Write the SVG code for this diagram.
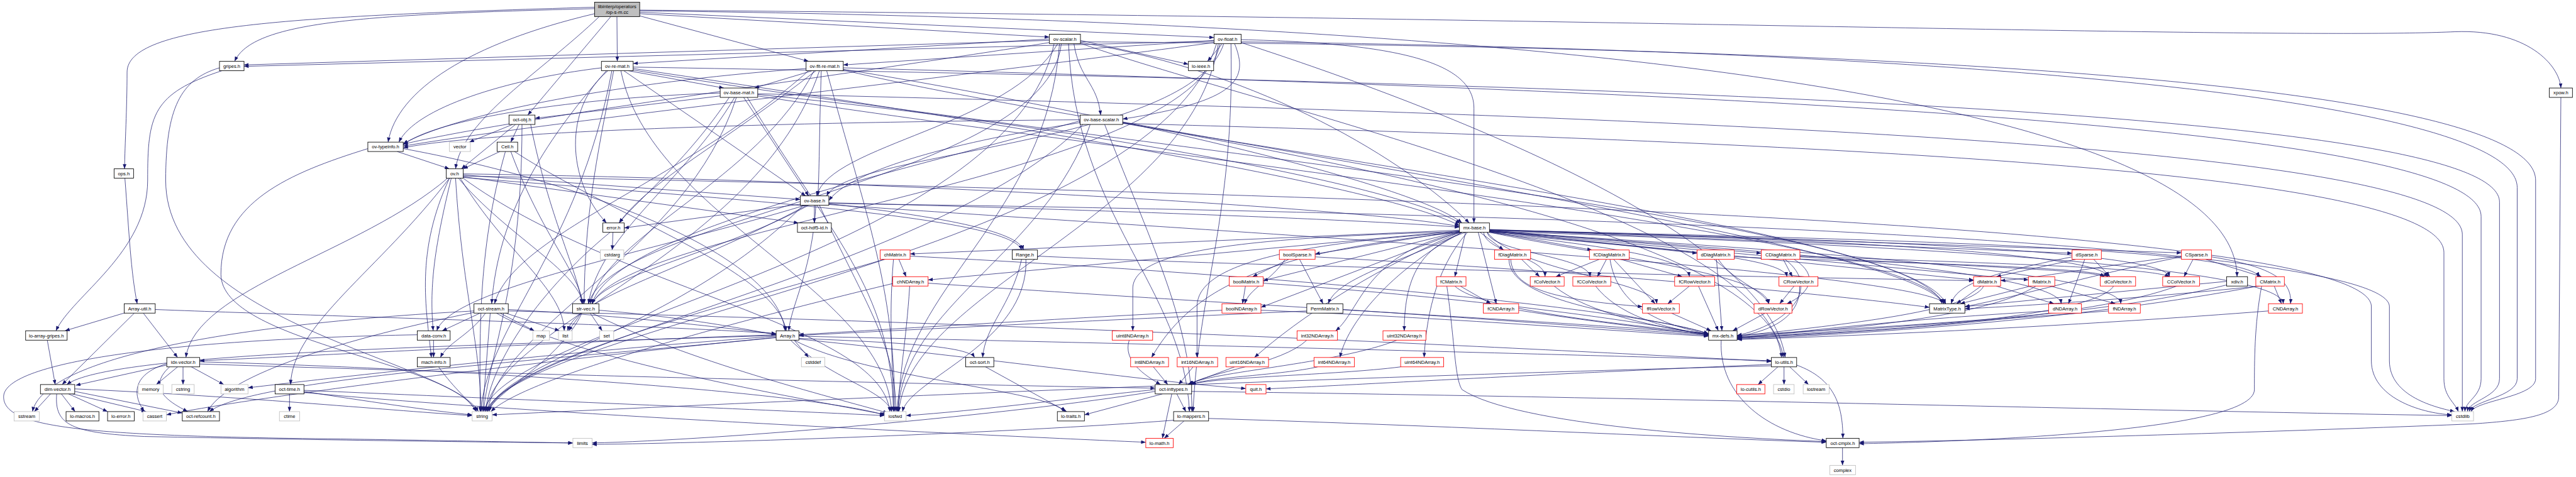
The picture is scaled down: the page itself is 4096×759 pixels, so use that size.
<svg xmlns="http://www.w3.org/2000/svg" width="4096" height="759" viewBox="0 0 4096 759">
<defs>
<style>
.nd rect{fill:#fff;stroke:#000;stroke-width:1.5}
.nd.red rect{stroke:#ff0000}
.nd.sys rect{stroke:#bfbfbf}
.nd.main rect{fill:#bfbfbf}
.nd text{font-family:"Liberation Sans",Arial,Helvetica,sans-serif;font-size:13.3px;text-anchor:middle;fill:#000}
#edges path{fill:none;stroke:#191970;stroke-width:1.3;marker-end:url(#arr)}
</style>
<marker id="arr" viewBox="0 0 13 10" refX="13" refY="5" markerWidth="13" markerHeight="10" markerUnits="userSpaceOnUse" orient="auto"><path d="M0,0 L13,5 L0,10 z" fill="#191970"/></marker>
</defs>
<rect width="4096" height="759" fill="#fff"/>
<g transform="scale(0.574)">
<g id="edges">
<path d="M1647,24 C1000,40 700,60 650,170"/>
<path d="M1647,20 C800,45 352,70 352,200 C352,300 346,400 345,468"/>
<path d="M1709,46 L1710,170"/>
<path d="M1772,44 L2240,170"/>
<path d="M1692,46 L1462,319"/>
<path d="M1647,38 C1300,120 1100,250 1075,394"/>
<path d="M1660,46 C1500,200 1280,330 1262,468"/>
<path d="M1772,38 L2907,103"/>
<path d="M1772,34 L3363,104"/>
<path d="M1772,30 C4500,60 6190,300 6197,767"/>
<path d="M1772,28 C4500,50 6300,110 6800,88 C7000,80 7090,180 7094,244"/>
<path d="M2907,112 L676,180"/>
<path d="M2907,108 L1754,176"/>
<path d="M2993,112 L3292,178"/>
<path d="M2975,121 C2990,220 3040,230 3049,319"/>
<path d="M2907,118 C2400,200 1400,330 1117,400"/>
<path d="M2930,121 C2800,350 2300,400 2262,543"/>
<path d="M2993,118 C3500,200 3900,450 4070,618"/>
<path d="M2940,121 C2900,500 1700,600 1630,842"/>
<path d="M2993,120 C3500,300 4900,600 4935,991"/>
<path d="M2960,121 C2980,600 3280,800 3295,1141"/>
<path d="M2920,121 C2800,700 1400,900 1340,1141"/>
<path d="M2935,121 C2900,600 2500,800 2485,1141"/>
<path d="M2993,116 C5500,130 7024,250 7024,500 L7024,1050 C7024,1100 6860,1110 6845,1141"/>
<path d="M3363,114 L676,184"/>
<path d="M3363,112 L2336,180"/>
<path d="M3386,121 L3345,170"/>
<path d="M3420,121 C3460,220 3430,280 3110,330"/>
<path d="M3363,118 C2600,220 1500,340 1117,405"/>
<path d="M3390,121 C3300,400 2350,420 2290,543"/>
<path d="M3438,110 C3900,120 4083,180 4083,300 L4083,618"/>
<path d="M3380,121 C3300,500 1750,620 1640,842"/>
<path d="M3438,118 C4000,300 4900,650 4945,991"/>
<path d="M3410,121 C3420,600 3320,800 3305,1141"/>
<path d="M3370,121 C3200,700 1450,900 1345,1141"/>
<path d="M3375,121 C3300,600 2520,800 2490,1141"/>
<path d="M3438,116 C5500,140 6973,280 6973,520 L6973,1050 C6973,1100 6850,1110 6840,1141"/>
<path d="M1740,196 L2005,244"/>
<path d="M1666,188 C1400,220 1150,300 1105,394"/>
<path d="M1728,196 L2232,543"/>
<path d="M1684,196 C1560,300 1570,500 1680,618"/>
<path d="M1754,190 C2500,300 3800,500 4043,625"/>
<path d="M1680,196 C1500,400 1380,600 1362,842"/>
<path d="M1700,196 C1650,450 1620,600 1618,842"/>
<path d="M1754,194 C3000,400 5300,600 5380,842"/>
<path d="M1720,196 C1800,600 2450,800 2470,1141"/>
<path d="M1695,196 C1600,700 1350,900 1332,1141"/>
<path d="M1754,186 C5000,240 6924,330 6924,560 L6924,1050 C6924,1100 6840,1110 6835,1141"/>
<path d="M2250,196 L2090,244"/>
<path d="M2233,190 C1800,220 1300,300 1117,398"/>
<path d="M2275,196 C2270,350 2270,450 2266,543"/>
<path d="M2260,196 C2000,400 1800,500 1715,618"/>
<path d="M2336,192 C3000,300 3900,500 4050,618"/>
<path d="M2240,196 C1900,500 1420,650 1370,842"/>
<path d="M2255,196 C2100,500 1680,650 1635,842"/>
<path d="M2336,194 C3200,400 5300,620 5390,842"/>
<path d="M2290,196 C2400,600 2480,800 2478,1141"/>
<path d="M2270,196 C2100,700 1380,900 1345,1141"/>
<path d="M2336,188 C5000,260 6873,360 6873,600 L6873,1050 C6873,1100 6830,1110 6828,1141"/>
<path d="M1995,266 L1482,328"/>
<path d="M1995,258 C1600,270 1200,330 1117,402"/>
<path d="M2060,270 L2240,543"/>
<path d="M2020,270 C1900,450 1760,560 1715,618"/>
<path d="M2099,262 C3000,350 3900,520 4045,620"/>
<path d="M2035,270 C1900,500 1660,650 1630,842"/>
<path d="M2099,266 C3300,450 5300,650 5385,842"/>
<path d="M2070,270 C2300,650 2470,800 2475,1141"/>
<path d="M2040,270 C1900,700 1390,900 1350,1141"/>
<path d="M2099,260 C5000,330 6821,420 6821,650 L6821,1141"/>
<path d="M3060,345 C3200,700 3300,900 3302,1141"/>
<path d="M3110,340 C4000,500 4900,700 4940,991"/>
<path d="M2992,335 C2400,500 1700,650 1640,842"/>
<path d="M3110,338 C4000,500 5300,700 5385,842"/>
<path d="M2992,340 C2600,400 2350,480 2296,556"/>
<path d="M2992,332 C2000,340 1300,370 1117,410"/>
<path d="M3110,342 C5200,400 6770,480 6770,700 L6770,1050 C6770,1100 6800,1115 6810,1141"/>
<path d="M3020,345 C2900,700 2500,850 2488,1141"/>
<path d="M3000,345 C2600,750 1400,950 1355,1141"/>
<path d="M1420,345 L1300,394"/>
<path d="M1438,345 L1415,394"/>
<path d="M1428,345 L1278,468"/>
<path d="M1446,345 C1446,800 1350,1000 1340,1141"/>
<path d="M1470,345 C1520,600 1600,750 1612,842"/>
<path d="M1100,420 L1245,468"/>
<path d="M1019,412 C800,480 612,560 612,760 C612,950 1250,1000 1320,1141"/>
<path d="M1117,412 C1600,500 2150,700 2175,917"/>
<path d="M1283,485 L2217,553"/>
<path d="M1283,490 L2212,618"/>
<path d="M1283,482 C2500,500 3800,580 4043,628"/>
<path d="M1250,494 C1200,700 1190,800 1200,917"/>
<path d="M1245,494 C1150,700 1180,850 1195,991"/>
<path d="M1240,494 C1000,700 540,800 515,991"/>
<path d="M1245,494 C1050,750 810,900 805,1066"/>
<path d="M1275,494 C1400,700 1560,800 1563,917"/>
<path d="M1270,494 C1400,650 1600,750 1615,842"/>
<path d="M1283,488 C4500,550 6569,650 6569,850 L6569,1000 C6569,1100 6700,1145 6792,1150"/>
<path d="M1283,494 C1700,800 2440,900 2465,1141"/>
<path d="M1262,494 C1280,800 1330,950 1333,1141"/>
<path d="M1283,492 C2000,550 2800,600 2830,693"/>
<path d="M2256,569 L2256,618"/>
<path d="M2217,566 L1729,632"/>
<path d="M2296,565 C2600,600 2820,640 2835,693"/>
<path d="M2230,569 C1800,700 1250,800 1210,917"/>
<path d="M2296,562 C3000,580 3800,610 4043,630"/>
<path d="M2240,569 C2000,700 1680,760 1640,842"/>
<path d="M2235,569 C1900,750 1600,820 1572,917"/>
<path d="M2260,569 C2250,750 2190,850 2185,917"/>
<path d="M2296,567 C3500,650 5300,750 5390,842"/>
<path d="M2296,564 C5000,600 6619,700 6619,850 L6619,1000 C6619,1100 6750,1130 6800,1141"/>
<path d="M2270,569 C2400,850 2480,950 2482,1141"/>
<path d="M2225,569 C1900,900 1400,1000 1350,1141"/>
<path d="M1385,420 L1283,468"/>
<path d="M1425,420 C1700,600 2150,750 2178,917"/>
<path d="M1415,420 C1500,650 1600,750 1615,842"/>
<path d="M1400,420 C1320,700 1330,950 1330,1141"/>
<path d="M346,494 C358,650 362,750 380,842"/>
<path d="M615,196 C420,260 409,320 409,500 C409,700 200,820 155,917"/>
<path d="M608,188 C500,220 459,300 459,500 C459,900 1250,1000 1325,1141"/>
<path d="M1698,644 L1696,693"/>
<path d="M1690,644 C1500,800 1360,1000 1345,1141"/>
<path d="M7094,270 L7088,1100 C7088,1150 7000,1165 6850,1175 C6500,1190 5600,1220 5150,1226"/>
<path d="M6168,790 C5800,880 5300,900 4812,930"/>
<path d="M6168,780 L5443,850"/>
<path d="M4043,638 L2521,704"/>
<path d="M4043,640 L3643,704"/>
<path d="M4100,644 L4165,693"/>
<path d="M4126,642 L4410,693"/>
<path d="M4126,640 L4701,702"/>
<path d="M4126,638 L4879,702"/>
<path d="M4126,637 L5740,702"/>
<path d="M4126,636 L6043,701"/>
<path d="M4043,640 L2571,776"/>
<path d="M4043,642 L3499,778"/>
<path d="M4060,644 L4030,767"/>
<path d="M4110,644 C4115,700 4280,710 4280,767"/>
<path d="M4120,644 C4130,700 4400,710 4405,767"/>
<path d="M4126,644 C4300,670 4670,700 4680,767"/>
<path d="M4126,642 C4400,680 4940,700 4950,767"/>
<path d="M4126,641 L5467,776"/>
<path d="M4126,640 L5619,776"/>
<path d="M4126,639 C5000,660 5820,700 5840,767"/>
<path d="M4126,638 C5000,660 5990,690 6010,767"/>
<path d="M4126,637 C5000,660 6200,680 6260,767"/>
<path d="M4043,642 L3493,852"/>
<path d="M4126,644 C4500,720 4890,760 4900,842"/>
<path d="M4126,642 C5000,700 5700,760 5710,842"/>
<path d="M4126,642 C5100,700 5870,760 5875,842"/>
<path d="M4126,641 C5300,680 6320,740 6325,842"/>
<path d="M4095,644 L4145,842"/>
<path d="M4120,644 C4200,750 4580,780 4590,842"/>
<path d="M4050,644 C3900,720 3700,770 3680,842"/>
<path d="M4050,644 C3780,700 3770,860 3700,917"/>
<path d="M4060,644 C3950,680 3890,750 3890,917"/>
<path d="M4043,642 C3400,660 3138,700 3138,800 L3138,917"/>
<path d="M4043,644 C3500,700 3300,800 3190,991"/>
<path d="M4043,644 C3500,680 3316,750 3316,850 L3316,991"/>
<path d="M4043,644 C3800,750 3600,880 3475,991"/>
<path d="M4050,644 C3850,750 3730,900 3712,991"/>
<path d="M4065,644 C3970,750 3950,900 3945,991"/>
<path d="M2490,719 L2510,767"/>
<path d="M2450,719 C2000,850 1400,1000 1350,1141"/>
<path d="M2475,719 C2460,900 2475,1000 2475,1141"/>
<path d="M2521,710 C3500,760 4500,850 4733,925"/>
<path d="M2571,785 C3500,850 4500,900 4733,928"/>
<path d="M2520,793 C2510,950 2490,1050 2488,1141"/>
<path d="M2473,786 C2000,900 1450,1050 1360,1141"/>
<path d="M2830,719 C2800,850 2730,900 2722,991"/>
<path d="M2842,719 C2850,950 2520,1050 2500,1141"/>
<path d="M2874,710 C3500,740 5000,770 5467,778"/>
<path d="M3570,719 L3470,767"/>
<path d="M3560,719 C3520,780 3460,800 3448,842"/>
<path d="M3600,719 L3665,842"/>
<path d="M3643,712 C4500,760 5100,820 5345,852"/>
<path d="M3450,793 L3442,842"/>
<path d="M3499,785 C4000,820 4500,880 4733,930"/>
<path d="M3493,860 C4000,880 4500,920 4733,932"/>
<path d="M3385,860 C3000,880 2500,910 2213,928"/>
<path d="M350,866 L180,917"/>
<path d="M372,868 L172,1066"/>
<path d="M397,868 L492,991"/>
<path d="M430,858 C1000,880 1800,900 2150,925"/>
<path d="M131,943 L153,1066"/>
<path d="M462,1012 L210,1068"/>
<path d="M492,1017 L433,1066"/>
<path d="M507,1017 L507,1066"/>
<path d="M530,1017 L620,1066"/>
<path d="M462,1008 C360,1040 370,1100 400,1141"/>
<path d="M470,1017 C400,1080 480,1120 520,1141"/>
<path d="M553,1003 C1200,1020 2200,1080 2450,1150"/>
<path d="M553,1009 C1500,1040 2800,1070 3200,1076"/>
<path d="M140,1092 L95,1141"/>
<path d="M170,1092 L208,1141"/>
<path d="M190,1092 L298,1141"/>
<path d="M200,1092 L405,1141"/>
<path d="M207,1085 L505,1145"/>
<path d="M207,1078 C700,1100 1100,1140 1308,1152"/>
<path d="M157,1092 C150,1180 200,1200 400,1210 C900,1220 1300,1225 1587,1228"/>
<path d="M802,1092 L802,1141"/>
<path d="M842,1085 C1000,1110 1200,1140 1308,1150"/>
<path d="M842,1088 C1500,1150 2800,1210 3174,1226"/>
<path d="M842,1082 C1500,1110 2200,1140 2450,1152"/>
<path d="M1330,868 L1225,917"/>
<path d="M1345,868 C1300,930 1240,950 1220,991"/>
<path d="M1385,868 L1480,917"/>
<path d="M1395,866 L1550,917"/>
<path d="M1358,868 L1337,1141"/>
<path d="M1408,858 C1800,880 2000,910 2150,925"/>
<path d="M1375,868 C1600,1000 2200,1100 2455,1150"/>
<path d="M1313,862 C600,900 120,1000 90,1141"/>
<path d="M1408,862 C3000,900 4500,980 4907,1002"/>
<path d="M1313,866 C900,950 620,1050 575,1141"/>
<path d="M1610,868 L1575,917"/>
<path d="M1635,868 L1668,917"/>
<path d="M1612,868 C1550,1000 1380,1080 1350,1141"/>
<path d="M1640,868 C1900,1000 2300,1100 2460,1145"/>
<path d="M1659,860 C1900,880 2050,910 2150,928"/>
<path d="M1201,943 L1201,991"/>
<path d="M1156,928 C500,940 10,1000 10,1100 C10,1180 200,1205 800,1215 C1200,1220 1450,1226 1587,1228"/>
<path d="M1215,1017 C1260,1080 1300,1110 1320,1141"/>
<path d="M2200,943 L2240,991"/>
<path d="M2150,935 C1500,1000 700,1100 461,1150"/>
<path d="M2150,932 C1500,980 900,1050 687,1075"/>
<path d="M2190,943 C2300,1050 2450,1080 2470,1141"/>
<path d="M2150,930 C1200,960 300,980 185,1066"/>
<path d="M2150,928 C1500,950 800,990 553,1000"/>
<path d="M2200,943 C2400,1050 2900,1080 2950,1141"/>
<path d="M2213,932 C3500,960 4600,990 4907,1000"/>
<path d="M2213,938 C2500,950 2680,960 2700,991"/>
<path d="M2213,940 C2800,1000 3200,1060 3451,1077"/>
<path d="M2150,936 C1500,1000 700,1050 580,1141"/>
<path d="M2730,1017 L2955,1141"/>
<path d="M3220,1092 L3004,1150"/>
<path d="M3260,1092 L3285,1141"/>
<path d="M3246,1092 L3220,1215"/>
<path d="M3301,1085 C4500,1100 6000,1140 6792,1152"/>
<path d="M3200,1085 C2800,1150 2000,1220 1640,1228"/>
<path d="M3200,1080 C3000,1100 2700,1140 2510,1152"/>
<path d="M3280,1167 L3225,1215"/>
<path d="M3348,1160 C4000,1180 4700,1215 5059,1226"/>
<path d="M3251,1165 C2800,1200 2000,1228 1640,1232"/>
<path d="M3128,943 C3110,1000 3170,1040 3215,1066"/>
<path d="M3195,1017 L3235,1066"/>
<path d="M3305,1017 L3265,1066"/>
<path d="M3420,1017 L3290,1066"/>
<path d="M3620,943 C3550,1010 3350,1030 3295,1066"/>
<path d="M3870,943 C3700,1010 3350,1030 3292,1066"/>
<path d="M3650,1017 C3550,1040 3350,1045 3298,1066"/>
<path d="M3880,1017 C3700,1040 3360,1045 3300,1066"/>
<path d="M4907,1010 C4200,1040 3700,1070 3507,1078"/>
<path d="M4925,1017 L4870,1066"/>
<path d="M4942,1017 L4942,1066"/>
<path d="M4958,1017 L5010,1066"/>
<path d="M4977,1012 C5080,1050 5105,1120 5105,1215"/>
<path d="M4907,1014 C3500,1050 2000,1120 1363,1150"/>
<path d="M5104,1241 L5104,1290"/>
<path d="M4768,943 C4760,1100 4900,1200 5059,1222"/>
<path d="M4215,719 L4265,767"/>
<path d="M4185,719 C4190,800 4300,830 4550,850"/>
<path d="M4180,719 C4180,850 4600,880 4733,925"/>
<path d="M4430,719 L4310,767"/>
<path d="M4450,719 L4425,767"/>
<path d="M4490,719 L4660,767"/>
<path d="M4470,719 L4585,842"/>
<path d="M4460,719 C4480,850 4600,900 4733,926"/>
<path d="M4760,719 C4800,780 4880,800 4900,842"/>
<path d="M4804,712 C5300,730 5800,740 5840,767"/>
<path d="M4755,719 L4770,917"/>
<path d="M4940,719 L4965,767"/>
<path d="M4970,719 C5050,770 5000,820 4950,842"/>
<path d="M4986,710 C5500,730 5950,740 6010,767"/>
<path d="M4986,712 C5500,740 5800,750 5830,767"/>
<path d="M4945,719 C5050,800 4950,900 4812,930"/>
<path d="M4045,793 L4130,842"/>
<path d="M4030,793 C4100,860 4500,900 4733,925"/>
<path d="M4008,793 C4030,950 4030,1050 4050,1080 C4200,1180 4800,1215 5059,1224"/>
<path d="M4305,793 C4400,870 4600,910 4733,926"/>
<path d="M4420,793 C4480,870 4600,910 4733,927"/>
<path d="M4680,793 L4620,842"/>
<path d="M4705,793 L4760,917"/>
<path d="M4630,868 L4740,917"/>
<path d="M4207,860 C4400,890 4600,915 4733,928"/>
<path d="M3720,858 C4200,890 4600,920 4733,930"/>
<path d="M3620,862 C3000,890 2500,915 2213,930"/>
<path d="M4970,793 L4930,842"/>
<path d="M4985,793 C4990,880 4900,920 4812,932"/>
<path d="M4890,868 L4800,917"/>
<path d="M5488,793 L5420,842"/>
<path d="M5530,793 L5690,842"/>
<path d="M5495,793 C5460,870 5000,910 4812,932"/>
<path d="M5625,793 L5430,842"/>
<path d="M5680,793 L5860,842"/>
<path d="M5640,793 C5500,880 5100,915 4812,934"/>
<path d="M5855,793 C5800,880 5200,920 4812,935"/>
<path d="M5675,862 C5200,890 5000,920 4812,936"/>
<path d="M5841,862 C5400,895 5000,925 4812,937"/>
<path d="M5740,712 C5500,760 5420,790 5405,842"/>
<path d="M5750,719 L5530,767"/>
<path d="M5775,719 L5730,842"/>
<path d="M5800,719 L5845,767"/>
<path d="M6075,719 L6050,767"/>
<path d="M6110,719 L6265,767"/>
<path d="M6126,712 C6300,740 6350,780 6345,842"/>
<path d="M6043,712 C5800,760 5600,820 5443,850"/>
<path d="M6043,710 C5800,740 5650,770 5542,778"/>
<path d="M6030,793 C5800,880 5200,920 4812,938"/>
<path d="M6300,793 L6320,842"/>
<path d="M6255,793 C5800,880 5200,925 4812,940"/>
<path d="M6260,793 C5900,830 5600,848 5443,856"/>
<path d="M6265,793 C6245,900 6245,1000 6245,1080 C6245,1200 5400,1225 5150,1230"/>
<path d="M6284,862 C5800,900 5200,930 4812,941"/>
</g>
<g id="nodes">
<g id="n-opsm" class="nd main"><rect x="1647" y="6" width="125" height="40"/><text x="1709.5" y="22">libinterp/operators</text><text x="1709.5" y="38">/op-s-m.cc</text></g>
<g id="n-gripes" class="nd"><rect x="608" y="170" width="68" height="26"/><text x="642" y="188">gripes.h</text></g>
<g id="n-ovtypeinfo" class="nd"><rect x="1019" y="394" width="98" height="26"/><text x="1068" y="412">ov-typeinfo.h</text></g>
<g id="n-ops" class="nd"><rect x="316" y="468" width="54" height="26"/><text x="343" y="486">ops.h</text></g>
<g id="n-ovremat" class="nd"><rect x="1666" y="170" width="88" height="26"/><text x="1710" y="188">ov-re-mat.h</text></g>
<g id="n-ovfltremat" class="nd"><rect x="2233" y="170" width="103" height="26"/><text x="2284.5" y="188">ov-flt-re-mat.h</text></g>
<g id="n-ovbasemat" class="nd"><rect x="1995" y="244" width="104" height="26"/><text x="2047" y="262">ov-base-mat.h</text></g>
<g id="n-octobj" class="nd"><rect x="1410" y="319" width="72" height="26"/><text x="1446" y="337">oct-obj.h</text></g>
<g id="n-vector" class="nd sys"><rect x="1245" y="394" width="58" height="26"/><text x="1274" y="412">vector</text></g>
<g id="n-cell" class="nd"><rect x="1377" y="394" width="57" height="26"/><text x="1405.5" y="412">Cell.h</text></g>
<g id="n-ov" class="nd"><rect x="1236" y="468" width="47" height="26"/><text x="1259.5" y="486">ov.h</text></g>
<g id="n-ovbase" class="nd"><rect x="2217" y="543" width="79" height="26"/><text x="2256.5" y="561">ov-base.h</text></g>
<g id="n-error" class="nd"><rect x="1670" y="618" width="59" height="26"/><text x="1699.5" y="636">error.h</text></g>
<g id="n-hdf5" class="nd"><rect x="2209" y="618" width="94" height="26"/><text x="2256" y="636">oct-hdf5-id.h</text></g>
<g id="n-ovscalar" class="nd"><rect x="2907" y="95" width="86" height="26"/><text x="2950" y="113">ov-scalar.h</text></g>
<g id="n-ovfloat" class="nd"><rect x="3363" y="95" width="75" height="26"/><text x="3400.5" y="113">ov-float.h</text></g>
<g id="n-loieee" class="nd"><rect x="3292" y="170" width="70" height="26"/><text x="3327" y="188">lo-ieee.h</text></g>
<g id="n-ovbasescalar" class="nd"><rect x="2992" y="319" width="118" height="26"/><text x="3051" y="337">ov-base-scalar.h</text></g>
<g id="n-mxbase" class="nd"><rect x="4043" y="618" width="83" height="26"/><text x="4084.5" y="636">mx-base.h</text></g>
<g id="n-xpow" class="nd"><rect x="7062" y="244" width="64" height="26"/><text x="7094" y="262">xpow.h</text></g>
<g id="n-arrayutil" class="nd"><rect x="344" y="842" width="86" height="26"/><text x="387" y="860">Array-util.h</text></g>
<g id="n-loarraygripes" class="nd"><rect x="71" y="917" width="115" height="26"/><text x="128.5" y="935">lo-array-gripes.h</text></g>
<g id="n-dataconv" class="nd"><rect x="1156" y="917" width="91" height="26"/><text x="1201.5" y="935">data-conv.h</text></g>
<g id="n-machinfo" class="nd"><rect x="1156" y="991" width="91" height="26"/><text x="1201.5" y="1009">mach-info.h</text></g>
<g id="n-idxvector" class="nd"><rect x="462" y="991" width="91" height="26"/><text x="507.5" y="1009">idx-vector.h</text></g>
<g id="n-dimvector" class="nd"><rect x="112" y="1066" width="95" height="26"/><text x="159.5" y="1084">dim-vector.h</text></g>
<g id="n-memory" class="nd sys"><rect x="383" y="1066" width="69" height="26"/><text x="417.5" y="1084">memory</text></g>
<g id="n-cstring" class="nd sys"><rect x="476" y="1066" width="62" height="26"/><text x="507" y="1084">cstring</text></g>
<g id="n-algorithm" class="nd sys"><rect x="612" y="1066" width="75" height="26"/><text x="649.5" y="1084">algorithm</text></g>
<g id="n-octtime" class="nd"><rect x="762" y="1066" width="80" height="26"/><text x="802" y="1084">oct-time.h</text></g>
<g id="n-sstream" class="nd sys"><rect x="39" y="1141" width="70" height="26"/><text x="74" y="1159">sstream</text></g>
<g id="n-lomacros" class="nd"><rect x="183" y="1141" width="91" height="26"/><text x="228.5" y="1159">lo-macros.h</text></g>
<g id="n-loerror" class="nd"><rect x="298" y="1141" width="74" height="26"/><text x="335" y="1159">lo-error.h</text></g>
<g id="n-cassert" class="nd sys"><rect x="396" y="1141" width="65" height="26"/><text x="428.5" y="1159">cassert</text></g>
<g id="n-octrefcount" class="nd"><rect x="505" y="1141" width="103" height="26"/><text x="556.5" y="1159">oct-refcount.h</text></g>
<g id="n-ctime" class="nd sys"><rect x="774" y="1141" width="56" height="26"/><text x="802" y="1159">ctime</text></g>
<g id="n-cstdarg" class="nd sys"><rect x="1663" y="693" width="65" height="26"/><text x="1695.5" y="711">cstdarg</text></g>
<g id="n-octstream" class="nd"><rect x="1313" y="842" width="95" height="26"/><text x="1360.5" y="860">oct-stream.h</text></g>
<g id="n-strvec" class="nd"><rect x="1586" y="842" width="73" height="26"/><text x="1622.5" y="860">str-vec.h</text></g>
<g id="n-map" class="nd sys"><rect x="1476" y="917" width="46" height="26"/><text x="1499" y="935">map</text></g>
<g id="n-list" class="nd sys"><rect x="1547" y="917" width="38" height="26"/><text x="1566" y="935">list</text></g>
<g id="n-set" class="nd sys"><rect x="1661" y="917" width="39" height="26"/><text x="1680.5" y="935">set</text></g>
<g id="n-array" class="nd"><rect x="2150" y="917" width="63" height="26"/><text x="2181.5" y="935">Array.h</text></g>
<g id="n-cstddef" class="nd sys"><rect x="2220" y="991" width="65" height="26"/><text x="2252.5" y="1009">cstddef</text></g>
<g id="n-string" class="nd sys"><rect x="1308" y="1141" width="55" height="26"/><text x="1335.5" y="1159">string</text></g>
<g id="n-limits" class="nd sys"><rect x="1587" y="1215" width="53" height="26"/><text x="1613.5" y="1233">limits</text></g>
<g id="n-chmatrix" class="nd red"><rect x="2438" y="693" width="83" height="26"/><text x="2479.5" y="711">chMatrix.h</text></g>
<g id="n-range" class="nd"><rect x="2804" y="693" width="70" height="26"/><text x="2839" y="711">Range.h</text></g>
<g id="n-boolsparse" class="nd red"><rect x="3544" y="693" width="99" height="26"/><text x="3593.5" y="711">boolSparse.h</text></g>
<g id="n-chndarray" class="nd red"><rect x="2473" y="767" width="98" height="26"/><text x="2522" y="785">chNDArray.h</text></g>
<g id="n-boolmatrix" class="nd red"><rect x="3405" y="767" width="94" height="26"/><text x="3452" y="785">boolMatrix.h</text></g>
<g id="n-boolndarray" class="nd red"><rect x="3385" y="842" width="108" height="26"/><text x="3439" y="860">boolNDArray.h</text></g>
<g id="n-uint8" class="nd red"><rect x="3081" y="917" width="112" height="26"/><text x="3137" y="935">uint8NDArray.h</text></g>
<g id="n-octsort" class="nd"><rect x="2675" y="991" width="78" height="26"/><text x="2714" y="1009">oct-sort.h</text></g>
<g id="n-int8" class="nd red"><rect x="3132" y="991" width="105" height="26"/><text x="3184.5" y="1009">int8NDArray.h</text></g>
<g id="n-int16" class="nd red"><rect x="3261" y="991" width="112" height="26"/><text x="3317" y="1009">int16NDArray.h</text></g>
<g id="n-uint16" class="nd red"><rect x="3396" y="991" width="118" height="26"/><text x="3455" y="1009">uint16NDArray.h</text></g>
<g id="n-octinttypes" class="nd"><rect x="3200" y="1066" width="101" height="26"/><text x="3250.5" y="1084">oct-inttypes.h</text></g>
<g id="n-quit" class="nd red"><rect x="3451" y="1066" width="56" height="26"/><text x="3479" y="1084">quit.h</text></g>
<g id="n-iosfwd" class="nd sys"><rect x="2450" y="1141" width="60" height="26"/><text x="2480" y="1159">iosfwd</text></g>
<g id="n-lotraits" class="nd"><rect x="2929" y="1141" width="75" height="26"/><text x="2966.5" y="1159">lo-traits.h</text></g>
<g id="n-lomappers" class="nd"><rect x="3251" y="1141" width="97" height="26"/><text x="3299.5" y="1159">lo-mappers.h</text></g>
<g id="n-lomath" class="nd red"><rect x="3174" y="1215" width="76" height="26"/><text x="3212" y="1233">lo-math.h</text></g>
<g id="n-fdiag" class="nd red"><rect x="4140" y="693" width="100" height="26"/><text x="4190" y="711">fDiagMatrix.h</text></g>
<g id="n-fcdiag" class="nd red"><rect x="4403" y="693" width="110" height="26"/><text x="4458" y="711">fCDiagMatrix.h</text></g>
<g id="n-ddiag" class="nd red"><rect x="4701" y="693" width="103" height="26"/><text x="4752.5" y="711">dDiagMatrix.h</text></g>
<g id="n-fcmatrix" class="nd red"><rect x="3979" y="767" width="82" height="26"/><text x="4020" y="785">fCMatrix.h</text></g>
<g id="n-fcolvec" class="nd red"><rect x="4239" y="767" width="94" height="26"/><text x="4286" y="785">fColVector.h</text></g>
<g id="n-fccolvec" class="nd red"><rect x="4357" y="767" width="105" height="26"/><text x="4409.5" y="785">fCColVector.h</text></g>
<g id="n-fcrowvec" class="nd red"><rect x="4639" y="767" width="111" height="26"/><text x="4694.5" y="785">fCRowVector.h</text></g>
<g id="n-permmatrix" class="nd"><rect x="3620" y="842" width="100" height="26"/><text x="3670" y="860">PermMatrix.h</text></g>
<g id="n-fcndarray" class="nd red"><rect x="4109" y="842" width="98" height="26"/><text x="4158" y="860">fCNDArray.h</text></g>
<g id="n-frowvec" class="nd red"><rect x="4550" y="842" width="102" height="26"/><text x="4601" y="860">fRowVector.h</text></g>
<g id="n-int32" class="nd red"><rect x="3593" y="917" width="112" height="26"/><text x="3649" y="935">int32NDArray.h</text></g>
<g id="n-uint32" class="nd red"><rect x="3831" y="917" width="119" height="26"/><text x="3890.5" y="935">uint32NDArray.h</text></g>
<g id="n-mxdefs" class="nd"><rect x="4733" y="917" width="79" height="26"/><text x="4772.5" y="935">mx-defs.h</text></g>
<g id="n-int64" class="nd red"><rect x="3640" y="991" width="112" height="26"/><text x="3696" y="1009">int64NDArray.h</text></g>
<g id="n-uint64" class="nd red"><rect x="3880" y="991" width="119" height="26"/><text x="3939.5" y="1009">uint64NDArray.h</text></g>
<g id="n-cdiag" class="nd red"><rect x="4879" y="693" width="107" height="26"/><text x="4932.5" y="711">CDiagMatrix.h</text></g>
<g id="n-dsparse" class="nd red"><rect x="5740" y="693" width="81" height="26"/><text x="5780.5" y="711">dSparse.h</text></g>
<g id="n-crowvec" class="nd red"><rect x="4928" y="767" width="108" height="26"/><text x="4982" y="785">CRowVector.h</text></g>
<g id="n-dmatrix" class="nd red"><rect x="5467" y="767" width="75" height="26"/><text x="5504.5" y="785">dMatrix.h</text></g>
<g id="n-fmatrix" class="nd red"><rect x="5619" y="767" width="73" height="26"/><text x="5655.5" y="785">fMatrix.h</text></g>
<g id="n-dcolvec" class="nd red"><rect x="5818" y="767" width="98" height="26"/><text x="5867" y="785">dColVector.h</text></g>
<g id="n-drowvec" class="nd red"><rect x="4859" y="842" width="105" height="26"/><text x="4911.5" y="860">dRowVector.h</text></g>
<g id="n-matrixtype" class="nd"><rect x="5345" y="842" width="98" height="26"/><text x="5394" y="860">MatrixType.h</text></g>
<g id="n-dndarray" class="nd red"><rect x="5675" y="842" width="91" height="26"/><text x="5720.5" y="860">dNDArray.h</text></g>
<g id="n-fndarray" class="nd red"><rect x="5841" y="842" width="88" height="26"/><text x="5885" y="860">fNDArray.h</text></g>
<g id="n-loutils" class="nd"><rect x="4907" y="991" width="70" height="26"/><text x="4942" y="1009">lo-utils.h</text></g>
<g id="n-locutils" class="nd red"><rect x="4811" y="1066" width="78" height="26"/><text x="4850" y="1084">lo-cutils.h</text></g>
<g id="n-cstdio" class="nd sys"><rect x="4913" y="1066" width="57" height="26"/><text x="4941.5" y="1084">cstdio</text></g>
<g id="n-iostream" class="nd sys"><rect x="4995" y="1066" width="72" height="26"/><text x="5031" y="1084">iostream</text></g>
<g id="n-octcmplx" class="nd"><rect x="5059" y="1215" width="91" height="26"/><text x="5104.5" y="1233">oct-cmplx.h</text></g>
<g id="n-complex" class="nd sys"><rect x="5069" y="1290" width="71" height="26"/><text x="5104.5" y="1308">complex</text></g>
<g id="n-csparse" class="nd red"><rect x="6043" y="693" width="83" height="26"/><text x="6084.5" y="711">CSparse.h</text></g>
<g id="n-ccolvec" class="nd red"><rect x="5991" y="767" width="102" height="26"/><text x="6042" y="785">CColVector.h</text></g>
<g id="n-xdiv" class="nd"><rect x="6168" y="767" width="58" height="26"/><text x="6197" y="785">xdiv.h</text></g>
<g id="n-cmatrix" class="nd red"><rect x="6249" y="767" width="79" height="26"/><text x="6288.5" y="785">CMatrix.h</text></g>
<g id="n-cndarray" class="nd red"><rect x="6284" y="842" width="94" height="26"/><text x="6331" y="860">CNDArray.h</text></g>
<g id="n-cstdlib" class="nd sys"><rect x="6792" y="1141" width="60" height="26"/><text x="6822" y="1159">cstdlib</text></g>
</g>
</g>
</svg>
